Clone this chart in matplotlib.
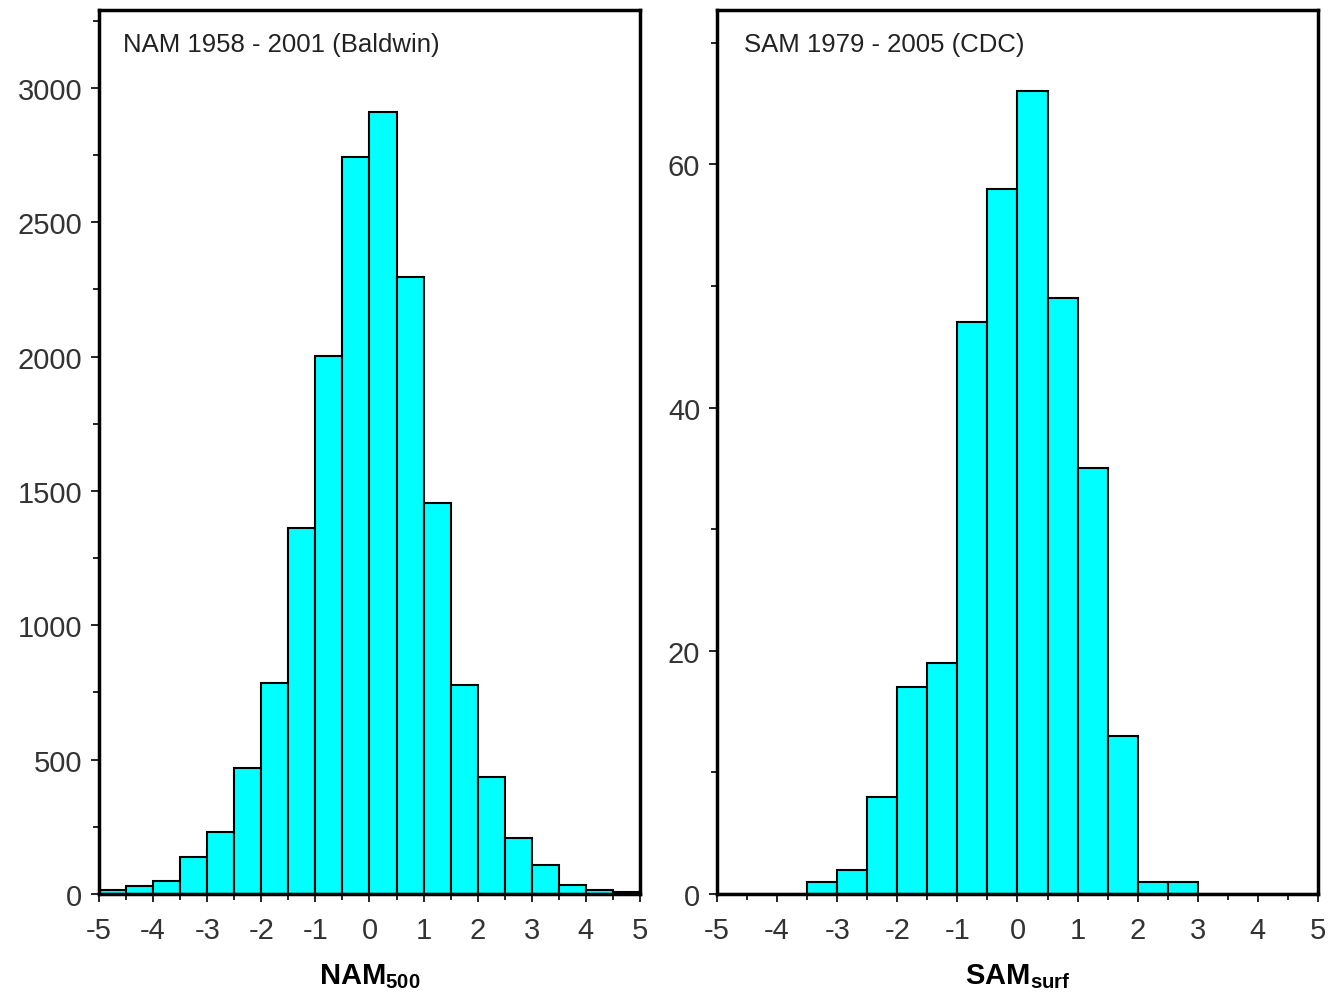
import matplotlib
matplotlib.use('Agg')
import matplotlib.pyplot as plt
from matplotlib.ticker import MultipleLocator

# bin left edges (width 0.5)
bin_left = [-5.0, -4.5, -4.0, -3.5, -3.0, -2.5, -2.0, -1.5, -1.0, -0.5,
            0.0, 0.5, 1.0, 1.5, 2.0, 2.5, 3.0, 3.5, 4.0, 4.5]
bin_width = 0.5

# NAM 500 hPa daily counts, 1958-2001 (Baldwin)
nam_counts = [13, 28, 48, 136, 230, 470, 786, 1363, 2003, 2744,
              2911, 2297, 1456, 778, 435, 207, 107, 35, 15, 6]

# SAM surface counts, 1979-2005 (CDC)
sam_counts = [0, 0, 0, 1, 2, 8, 17, 19, 47, 58,
              66, 49, 35, 13, 1, 1, 0, 0, 0, 0]

plt.rcParams['font.family'] = ['Liberation Sans', 'DejaVu Sans']
plt.rcParams['axes.unicode_minus'] = False
plt.rcParams['mathtext.fontset'] = 'custom'
plt.rcParams['mathtext.rm'] = 'Liberation Sans'
plt.rcParams['mathtext.bf'] = 'Liberation Sans:bold'

fig = plt.figure(figsize=(13.31, 10.04), dpi=100)
ax1 = fig.add_axes([0.0744, 0.1086, 0.4064, 0.8805])
ax2 = fig.add_axes([0.5387, 0.1086, 0.4515, 0.8805])

panels = [
    (ax1, nam_counts, 3290, 500, 250, 'NAM 1958 - 2001 (Baldwin)',
     r'$\mathbf{NAM}_{\mathbf{500}}$'),
    (ax2, sam_counts, 72.7, 20, 10, 'SAM 1979 - 2005 (CDC)',
     r'$\mathbf{SAM}_{\mathbf{surf}}$'),
]

for ax, counts, ymax, ymaj, ymin, title, xlab in panels:
    ax.bar(bin_left, counts, width=bin_width, align='edge',
           color='#00FFFF', edgecolor='black', linewidth=1.5, zorder=2)
    ax.set_xlim(-5, 5)
    ax.set_ylim(0, ymax)
    ax.xaxis.set_major_locator(MultipleLocator(1))
    ax.xaxis.set_minor_locator(MultipleLocator(0.5))
    ax.yaxis.set_major_locator(MultipleLocator(ymaj))
    ax.yaxis.set_minor_locator(MultipleLocator(ymin))
    ax.tick_params(axis='both', which='major', direction='out', length=6,
                   width=1.2, labelsize=21, labelcolor='#333333')
    ax.tick_params(axis='x', which='major', pad=10)
    ax.tick_params(axis='y', which='major', pad=6)
    ax.tick_params(axis='both', which='minor', direction='out', length=4,
                   width=1.2)
    for spine in ax.spines.values():
        spine.set_linewidth(2.5)
    ax.text(0.045, 0.975, title, transform=ax.transAxes, fontsize=18.5,
            ha='left', va='top', color='#222222')
    ax.set_xlabel(xlab, fontsize=21, labelpad=12)

plt.savefig('out.png', dpi=100, facecolor='white')
